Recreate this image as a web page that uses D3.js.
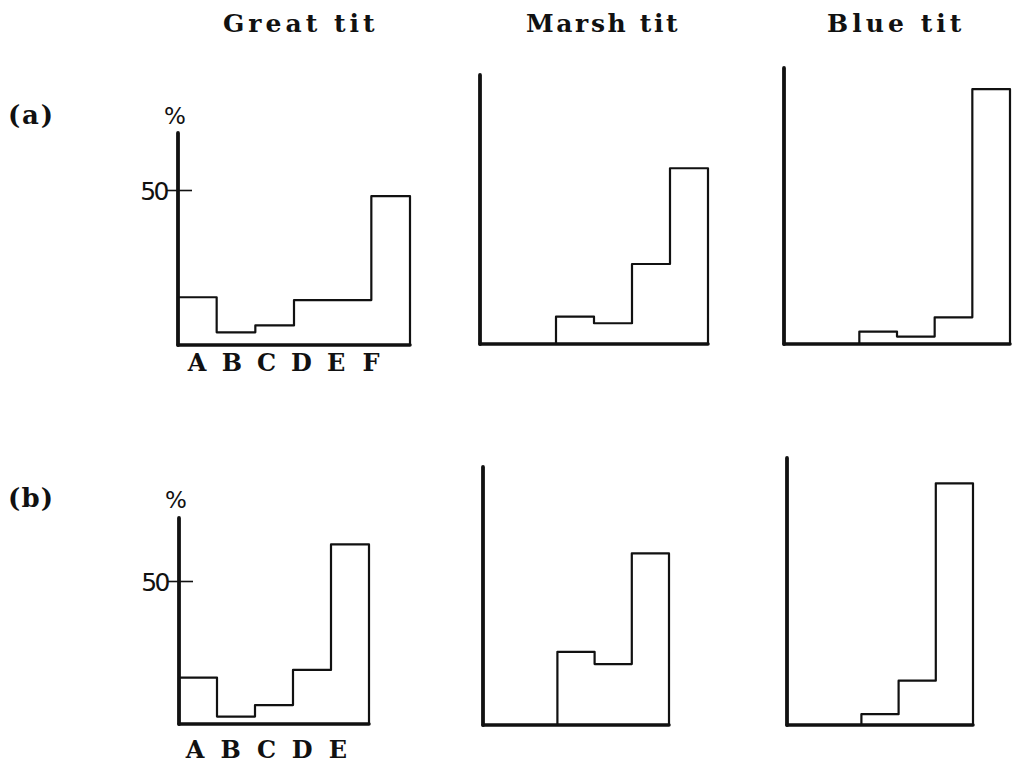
<!DOCTYPE html>
<html>
<head>
<meta charset="utf-8">
<script src="https://cdn.jsdelivr.net/npm/d3@7"></script>
<style>
  html, body { margin: 0; padding: 0; background: #fff; }
  svg { display: block; }
  .tw { font-family: "DejaVu Serif", "Liberation Serif", serif; font-weight: bold; fill: #111; }
  .hand { font-family: "DejaVu Sans", "Noto Sans", sans-serif; fill: #111; }
</style>
</head>
<body>
<svg id="chart" width="1019" height="767"></svg>
<script>
// ---------------- DATA ----------------
const species = ["Great tit", "Marsh tit", "Blue tit"];
const rowLabels = ["(a)", "(b)"];
const categoriesA = ["A", "B", "C", "D", "E", "F"];
const categoriesB = ["A", "B", "C", "D", "E"];
const yTickValues = [50];
const yUnitLabel = "%";

// percentage of each category
const greatTitA = [15.4, 4.1, 6.3, 14.5, 14.5, 48.0];
const marshTitA = [0, 0, 8.8, 6.7, 25.8, 56.7];
const blueTitA  = [0, 0, 4.0, 2.4, 8.6, 82.2];

const greatTitB = [16.2, 2.6, 6.6, 18.9, 62.8];
const marshTitB = [0, 0, 25.6, 21.3, 60.0];
const blueTitB  = [0, 0, 3.8, 15.5, 84.5];

// ---------------- LAYOUT ----------------
const rows = [
  { cats: categoriesA, series: [greatTitA, marshTitA, blueTitA],
    px50: 155, rowLabelY: 124, pctY: 124, catY: 371, catRange: [197, 371],
    panels: [
      { x0: 178, x1: 410, base: 345, top: 133 },
      { x0: 480, x1: 708, base: 344, top: 75 },
      { x0: 784, x1: 1010, base: 344, top: 68 }
    ] },
  { cats: categoriesB, series: [greatTitB, marshTitB, blueTitB],
    px50: 143, rowLabelY: 507, pctY: 508, catY: 758, catRange: [195, 338],
    panels: [
      { x0: 179, x1: 369, base: 724, top: 518 },
      { x0: 483, x1: 669, base: 725, top: 467 },
      { x0: 787, x1: 973, base: 725, top: 458 }
    ] }
];
const titleX = [223, 526, 827];
const titleY = 32;
const typeAdvance = 17.2; // typewriter character pitch

const svg = d3.select("#chart");

// titles
svg.selectAll("text.title").data(species).join("text")
  .attr("class", "tw title")
  .attr("x", (d, i) => titleX[i]).attr("y", titleY)
  .attr("font-size", 25)
  .attr("textLength", d => (d.length - 1) * typeAdvance + 14)
  .attr("lengthAdjust", "spacing")
  .text(d => d);

rows.forEach((row, r) => {
  // row label (a)/(b)
  svg.append("text").attr("class", "tw")
    .attr("x", 8).attr("y", row.rowLabelY)
    .attr("font-size", 26)
    .attr("textLength", 45).attr("lengthAdjust", "spacing")
    .text(rowLabels[r]);

  row.panels.forEach((p, c) => {
    const g = svg.append("g");
    const x = d3.scaleBand().domain(row.cats).range([p.x0, p.x1]).padding(0);
    const y = d3.scaleLinear().domain([0, 50]).range([p.base, p.base - row.px50]);
    const values = row.series[c];
    const yMax = y.invert(p.top);

    // step outline of the histogram
    const first = values.findIndex(v => v > 0);
    const pts = [[x(row.cats[first]), 0]];
    for (let i = first; i < values.length; i++) pts.push([x(row.cats[i]), values[i]]);
    pts.push([p.x1, values[values.length - 1]]);
    pts.push([p.x1, 0]);
    const line = d3.line().x(d => d[0]).y(d => y(d[1])).curve(d3.curveStepAfter);
    g.append("path").attr("d", line(pts))
      .attr("fill", "none").attr("stroke", "#111")
      .attr("stroke-width", 2.2).attr("stroke-linejoin", "round");

    // baseline
    g.append("line")
      .attr("x1", p.x0).attr("x2", p.x1)
      .attr("y1", y(0)).attr("y2", y(0))
      .attr("stroke", "#111").attr("stroke-width", 3.5).attr("stroke-linecap", "round");
    // y axis
    g.append("line")
      .attr("x1", p.x0).attr("x2", p.x0)
      .attr("y1", y(0)).attr("y2", y(yMax))
      .attr("stroke", "#111").attr("stroke-width", 3.8).attr("stroke-linecap", "round");

    if (c === 0) {
      // 50 tick and label
      const ax = g.append("g").attr("transform", `translate(${p.x0},0)`)
        .call(d3.axisLeft(y).tickValues(yTickValues).tickSize(11).tickPadding(0));
      ax.select(".domain").remove();
      ax.selectAll(".tick line").attr("x2", -11).attr("x1", 14)
        .attr("stroke", "#111").attr("stroke-width", 1.6);
      ax.selectAll(".tick text")
        .attr("font-size", 25).attr("letter-spacing", -2.5)
        .attr("dy", "0.36em").attr("font-family", "DejaVu Sans").attr("fill", "#111");
      // % label
      g.append("text").attr("class", "hand")
        .attr("x", p.x0 - 3).attr("y", row.pctY)
        .attr("text-anchor", "middle").attr("font-size", 23)
        .text(yUnitLabel);
      // category labels
      const cx = d3.scalePoint().domain(row.cats).range(row.catRange);
      g.selectAll("text.cat").data(row.cats).join("text")
        .attr("class", "tw cat")
        .attr("x", d => cx(d)).attr("y", row.catY)
        .attr("text-anchor", "middle").attr("font-size", 24)
        .text(d => d);
    }
  });
});
</script>
</body>
</html>
